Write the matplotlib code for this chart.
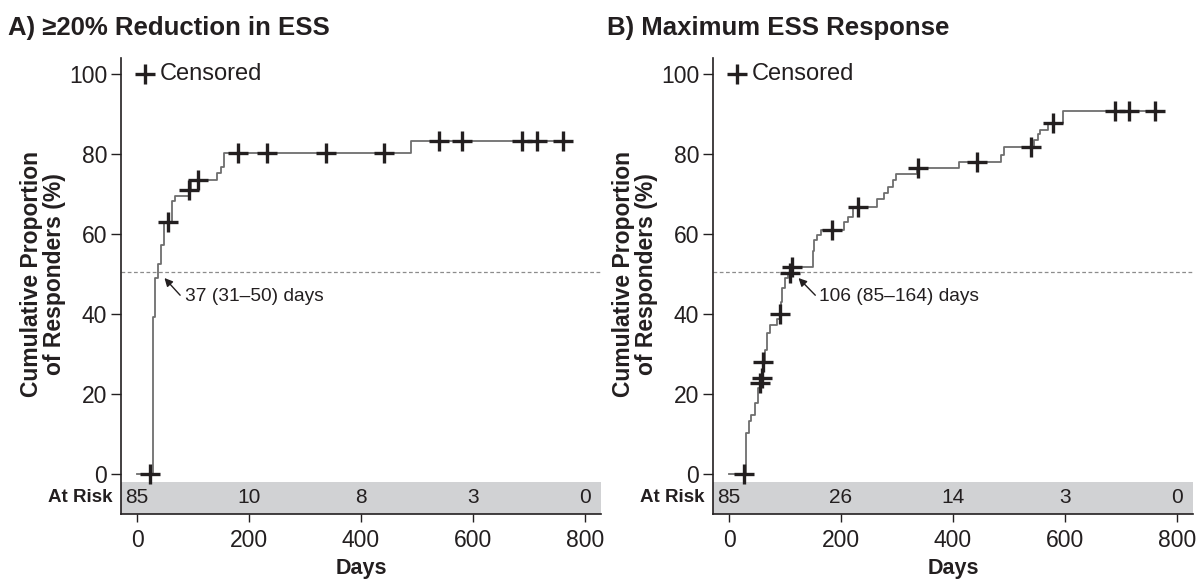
import numpy as np
import matplotlib
matplotlib.use("Agg")
import matplotlib.pyplot as plt
from matplotlib import transforms

plt.rcParams['font.family'] = ['Liberation Sans', 'DejaVu Sans']

# Panel A: >=20% reduction in ESS (step times in days, cumulative % responders)
days_a = [0, 29, 32, 38, 43, 48, 62, 67, 93, 97, 142, 150, 156, 490, 776]
resp_a = [0, 39.3, 49.0, 52.6, 57.3, 62.9, 68.3, 69.6, 71.1, 73.6, 75.2, 76.8, 80.3, 83.2, 83.2]
cens_days_a = [23, 56, 93, 109, 181, 232, 337, 441, 540, 580, 687, 715, 761]
cens_resp_a = [0, 62.9, 71.1, 73.6, 80.3, 80.3, 80.3, 80.3, 83.2, 83.2, 83.2, 83.2, 83.2]
risk_a = ['85', '10', '8', '3', '0']

# Panel B: maximum ESS response
days_b = [0, 30, 36, 40, 46, 52, 55, 58, 60, 61, 64, 67, 73, 86, 91, 93, 95, 100, 106,
          111, 149, 152, 157, 165, 206, 213, 221, 264, 276, 283, 292, 299, 335, 410,
          486, 491, 544, 551, 556, 570, 597, 775]
resp_b = [0, 10.2, 13.3, 14.8, 17.7, 21.5, 22.7, 23.9, 26.5, 28.0, 31.0, 35.2, 37.3, 38.7,
          40.0, 43.0, 46.4, 48.9, 50.3, 51.8, 55.8, 58.5, 59.8, 61.0, 63.1, 64.3, 66.8,
          68.7, 70.2, 71.8, 73.5, 74.9, 76.4, 78.1, 79.8, 81.7, 83.5, 85.0, 86.0, 87.7,
          90.8, 90.8]
cens_days_b = [26, 55, 58, 61, 91, 109, 112, 183, 231, 338, 443, 539, 579, 689, 714, 761]
cens_resp_b = [0, 22.7, 23.9, 28.0, 40.0, 50.3, 51.8, 61.0, 66.8, 76.4, 78.1, 81.7, 87.7,
               90.8, 90.8, 90.8]
risk_b = ['85', '26', '14', '3', '0']

risk_days = [0, 200, 400, 600, 800]
median_a = '37 (31\u201350) days'
median_b = '106 (85\u2013164) days'

ink = '#231f20'
curve = '#6e6e6e'

fig = plt.figure(figsize=(11.97, 5.82), dpi=100)
ax_a = fig.add_axes([0.1011, 0.1168, 0.401, 0.7835])
ax_b = fig.add_axes([0.5957, 0.1168, 0.401, 0.7835])


def km_panel(ax, days, resp, cdays, cresp, risk, label, tip, tail, txt_pos):
    ax.axhspan(-10, -1.9, color='#d1d2d4', lw=0, zorder=0)
    ax.axhline(50.5, color='#8c8c8c', lw=0.9, ls=(0, (3, 2)), zorder=1)
    ax.step(days, resp, where='post', color=curve, lw=1.3, zorder=2)
    ax.plot(cdays, cresp, ls='none', marker='+', ms=14, mew=2.4, color=ink, zorder=3)

    # legend
    ax.plot([14], [100], ls='none', marker='+', ms=14, mew=2.4, color=ink, clip_on=False)
    ax.text(40, 100, 'Censored', fontsize=17, color=ink, ha='left', va='center')

    # median annotation
    ax.annotate('', xy=tip, xytext=tail,
                arrowprops=dict(arrowstyle='-|>', color=ink, lw=1.0, mutation_scale=12,
                                shrinkA=0, shrinkB=0))
    ax.text(txt_pos[0], txt_pos[1], label, fontsize=13.8, color=ink, ha='left', va='center')

    # at-risk row
    for d, n in zip(risk_days, risk):
        ax.text(d, -5.9, n, fontsize=15, color=ink, ha='center', va='center')
    tr = transforms.blended_transform_factory(ax.transAxes, ax.transData)
    ax.text(-0.017, -5.9, 'At Risk', transform=tr, fontsize=13.5, fontweight='bold',
            color=ink, ha='right', va='center')

    ax.set_xlim(-28.6, 828.6)
    ax.set_ylim(-10, 104)
    ax.set_xticks(risk_days)
    ax.set_yticks([0, 20, 40, 60, 80, 100])
    for s in ['top', 'right']:
        ax.spines[s].set_visible(False)
    for s in ['left', 'bottom']:
        ax.spines[s].set_color(ink)
        ax.spines[s].set_linewidth(1.2)
    ax.tick_params(axis='y', length=7, width=1.0, color=ink, labelsize=16.5, labelcolor=ink, pad=3)
    ax.tick_params(axis='x', length=6, width=1.0, color=ink, labelsize=16.5, labelcolor=ink, pad=5)
    ax.text(0.5, -0.12, 'Days', transform=ax.transAxes, fontsize=15.5, fontweight='bold',
            color=ink, ha='center', va='center')
    ax.text(-0.162, 0.526, 'Cumulative Proportion\nof Responders (%)', transform=ax.transAxes,
            rotation=90, fontsize=16.5, fontweight='bold', color=ink, ha='center', va='center',
            linespacing=1.0)


km_panel(ax_a, days_a, resp_a, cens_days_a, cens_resp_a, risk_a, median_a,
         tip=(49, 49), tail=(77, 44.7), txt_pos=(85, 44.3))
km_panel(ax_b, days_b, resp_b, cens_days_b, cens_resp_b, risk_b, median_b,
         tip=(124, 49), tail=(154, 44.7), txt_pos=(161, 44.3))

fig.text(8 / 1197, 0.952, 'A) \u226520% Reduction in ESS', fontsize=18.5, fontweight='bold',
         color=ink, ha='left', va='center')
fig.text(607 / 1197, 0.952, 'B) Maximum ESS Response', fontsize=18.5, fontweight='bold',
         color=ink, ha='left', va='center')

fig.savefig('out.png', dpi=100)
